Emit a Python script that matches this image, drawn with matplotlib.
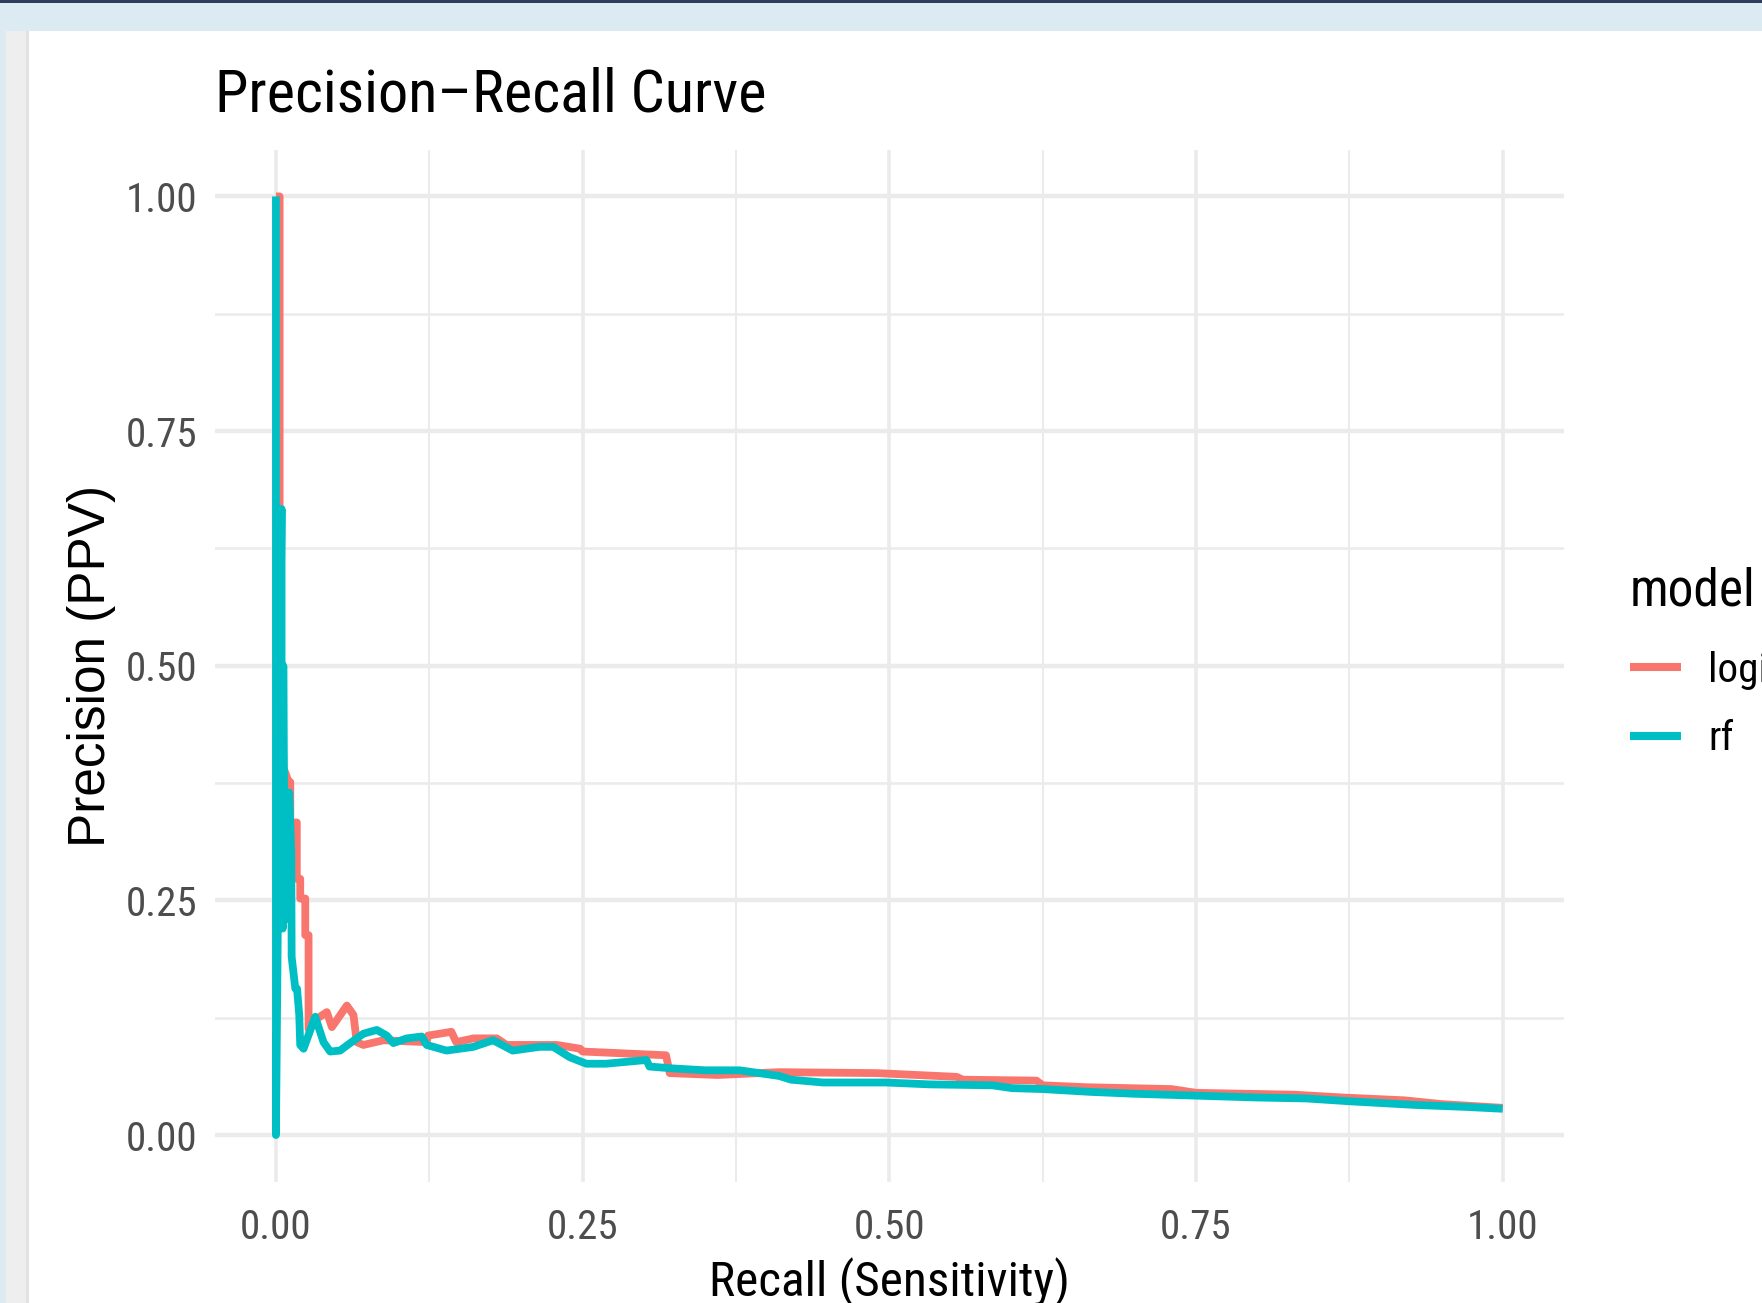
import matplotlib
matplotlib.use("Agg")
import matplotlib.pyplot as plt
from matplotlib.patches import Rectangle
from matplotlib.font_manager import FontProperties, fontManager

# ---------------- data ----------------
model_names = ["logistic", "rf"]

logistic_recall = [0.000, 0.003, 0.003, 0.008, 0.0103, 0.0117, 0.0117, 0.0170, 0.0170, 0.0198,
                   0.0198, 0.0239, 0.0239, 0.0266, 0.0266, 0.0334, 0.0415, 0.0456, 0.0578, 0.0632,
                   0.0659, 0.0713, 0.0876, 0.1228, 0.1240, 0.1430, 0.1470, 0.1610, 0.1800, 0.1880,
                   0.2290, 0.2480, 0.2500, 0.3180, 0.3210, 0.3600, 0.4100, 0.4900, 0.5550, 0.5600,
                   0.6200, 0.6250, 0.6600, 0.7300, 0.7500, 0.8300, 0.8700, 0.9200, 0.9500, 1.0000]
logistic_precision = [1.000, 1.000, 0.400, 0.385, 0.376, 0.376, 0.333, 0.333, 0.273, 0.273,
                      0.252, 0.252, 0.213, 0.213, 0.113, 0.124, 0.131, 0.115, 0.138, 0.128,
                      0.099, 0.096, 0.101, 0.099, 0.106, 0.110, 0.099, 0.103, 0.103, 0.096,
                      0.096, 0.092, 0.089, 0.085, 0.066, 0.064, 0.067, 0.066, 0.062, 0.059,
                      0.058, 0.053, 0.051, 0.049, 0.045, 0.043, 0.040, 0.037, 0.033, 0.029]

rf_recall = [0.000, 0.000, 0.0046, 0.0046, 0.0055, 0.0060, 0.0070, 0.0080, 0.0095, 0.0108,
             0.0125, 0.0128, 0.0158, 0.0172, 0.0190, 0.0198, 0.0225, 0.0320, 0.0360, 0.0388,
             0.0442, 0.0523, 0.0605, 0.0713, 0.0822, 0.0903, 0.0957, 0.1066, 0.1188, 0.1229,
             0.1390, 0.1610, 0.1770, 0.1930, 0.2150, 0.2260, 0.2394, 0.2530, 0.2690, 0.3020,
             0.3045, 0.3235, 0.3500, 0.3780, 0.4100, 0.4200, 0.4460, 0.4970, 0.5330, 0.5840,
             0.6000, 0.6250, 0.6640, 0.7000, 0.7500, 0.8000, 0.8400, 0.8750, 0.9300, 0.9700,
             1.0000]
rf_precision = [1.000, 0.000, 0.667, 0.250, 0.220, 0.500, 0.300, 0.230, 0.350, 0.365,
                0.300, 0.190, 0.156, 0.156, 0.128, 0.096, 0.092, 0.126, 0.110, 0.099,
                0.089, 0.090, 0.098, 0.108, 0.112, 0.106, 0.098, 0.103, 0.105, 0.096,
                0.090, 0.094, 0.101, 0.090, 0.094, 0.094, 0.083, 0.076, 0.076, 0.080,
                0.073, 0.071, 0.069, 0.069, 0.063, 0.059, 0.056, 0.056, 0.054, 0.053,
                0.050, 0.049, 0.046, 0.044, 0.042, 0.040, 0.039, 0.036, 0.032, 0.030,
                0.028]

tick_values = [0.00, 0.25, 0.50, 0.75, 1.00]
tick_labels = ["0.00", "0.25", "0.50", "0.75", "1.00"]
minor_values = [0.125, 0.375, 0.625, 0.875]

title_text = "Precision\u2013Recall Curve"
x_title = "Recall (Sensitivity)"
y_title = "Precision (PPV)"
legend_title = "model"

# ---------------- styling ----------------
W, H = 1762, 1303
available = {f.name for f in fontManager.ttflist}
narrow_candidates = ["Liberation Sans Narrow", "Arial Narrow", "Roboto Condensed",
                     "Open Sans Condensed", "Noto Sans Condensed"]
narrow_found = [f for f in narrow_candidates if f in available]
if narrow_found:
    NARROW = [narrow_found[0], "Liberation Sans", "DejaVu Sans"]
    hscale = 1.0
else:
    NARROW = ["Liberation Sans", "DejaVu Sans"]
    hscale = 0.88
REGULAR = ["Liberation Sans", "DejaVu Sans"]

colors = ["#F8766D", "#00BFC4"]
grid_col = "#EBEBEB"

fig = plt.figure(figsize=(W / 100, H / 100), dpi=100, facecolor="white")

def px_rect(x0, y0, x1, y1, color):
    fig.patches.append(Rectangle((x0 / W, 1 - y1 / H), (x1 - x0) / W, (y1 - y0) / H,
                                 transform=fig.transFigure, facecolor=color,
                                 edgecolor="none", zorder=0))

# screenshot frame decorations
px_rect(0, 0, W, 31, "#DCEAF1")
px_rect(0, 0, 6, H, "#DCEAF1")
px_rect(6, 31, 27, H, "#EEEEEE")
px_rect(26, 31, 29, H, "#E2E2E2")
px_rect(0, 0, W, 3, "#2E3D5A")

ax_l, ax_r, ax_t, ax_b = 214.6, 1564.0, 149.5, 1182.0
ax = fig.add_axes([ax_l / W, 1 - ax_b / H, (ax_r - ax_l) / W, (ax_b - ax_t) / H])
ax.set_facecolor("none")

lines = []
for rec, prec, col in [(logistic_recall, logistic_precision, colors[0]),
                       (rf_recall, rf_precision, colors[1])]:
    ln, = ax.plot(rec, prec, color=col, lw=5.6, solid_joinstyle="round",
                  solid_capstyle="butt", zorder=3)
    lines.append(ln)

ax.set_xlim(-0.05, 1.05)
ax.set_ylim(-0.05, 1.05)
ax.set_xticks(tick_values)
ax.set_xticklabels(tick_labels)
ax.set_yticks(tick_values)
ax.set_yticklabels(tick_labels)
ax.set_xticks(minor_values, minor=True)
ax.set_yticks(minor_values, minor=True)

tick_fp = FontProperties(family=NARROW, size=29.6 * hscale)
for lab in ax.get_xticklabels() + ax.get_yticklabels():
    lab.set_fontproperties(tick_fp)
    lab.set_color("#4D4D4D")
ax.tick_params(axis="both", which="both", length=0)
ax.tick_params(axis="x", pad=19)
ax.tick_params(axis="y", pad=12.6)

ax.grid(which="major", axis="y", color=grid_col, lw=3.2)
ax.grid(which="minor", axis="y", color=grid_col, lw=1.8)
ax.grid(which="major", axis="x", color=grid_col, lw=2.6)
ax.grid(which="minor", axis="x", color=grid_col, lw=1.5)
ax.set_axisbelow(True)
for s in ax.spines.values():
    s.set_visible(False)

ax.set_xlabel(x_title, fontproperties=FontProperties(family=NARROW, size=35.6 * hscale),
              color="black")
ax.xaxis.set_label_coords(0.5, (ax_b - 1257) / (ax_b - ax_t))

fig.text(92 / W, 1 - 666 / H, y_title, rotation=90, ha="center", va="center",
         fontproperties=FontProperties(family=REGULAR, size=37), color="black")

fig.text(215 / W, 1 - 112 / H, title_text, ha="left", va="baseline",
         fontproperties=FontProperties(family=NARROW, size=43.5 * hscale), color="black")

leg_fs = 29.6 * hscale
leg_sp = 0.71
leg = fig.legend(handles=lines, labels=model_names, title=legend_title,
                 loc="upper left", bbox_to_anchor=(1630 / W, 1 - 567 / H),
                 frameon=False, prop=FontProperties(family=NARROW, size=leg_fs),
                 title_fontproperties=FontProperties(family=NARROW, size=37 * hscale),
                 handlelength=1.25, handletextpad=0.65, labelspacing=leg_sp,
                 borderpad=0, borderaxespad=0, alignment="left")
leg._legend_box.sep = leg_sp * leg_fs + 3.3
for lh in leg.get_lines():
    lh.set_linewidth(5.8)

fig.savefig("out.png", dpi=100, facecolor="white")
